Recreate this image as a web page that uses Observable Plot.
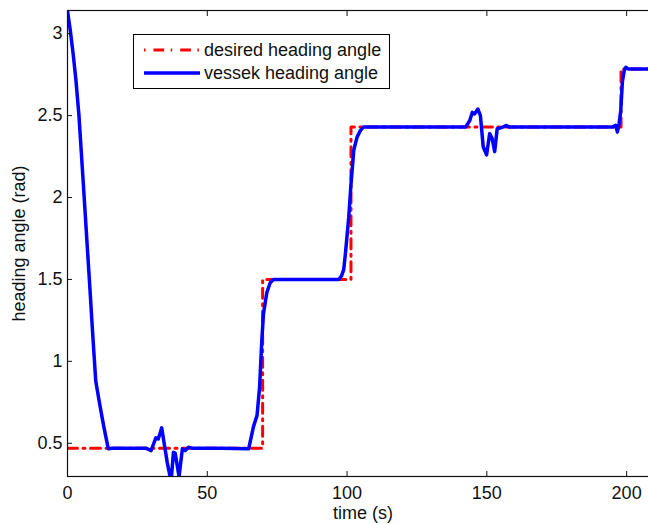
<!DOCTYPE html>
<html>
<head>
<meta charset="utf-8">
<script src="https://cdn.jsdelivr.net/npm/d3@7"></script>
<script src="https://cdn.jsdelivr.net/npm/@observablehq/plot@0.6"></script>
<style>
  html, body { margin: 0; padding: 0; background: white; }
  #wrap { position: relative; width: 648px; height: 524px; overflow: hidden; background: white; }
  #wrap > svg { max-width: none !important; width: 658px; height: 524px; display: block; }
  #legend { position: absolute; left: 133px; top: 34px; width: 255px; height: 53px; border: 1px solid black; background: white;
            font-family: "Liberation Sans", Arial, sans-serif; font-size: 18px; color: #111; }
  #legend .row { position: absolute; left: 0; height: 22px; display: flex; align-items: center; }
  #legend svg { display: block; }
</style>
</head>
<body>
<div id="wrap"></div>
<script>
// time axis ticks and heading angle ticks
const xTicks = [0, 50, 100, 150, 200];
const yTicks = [0.5, 1, 1.5, 2, 2.5, 3];

// desired heading angle (step reference)
const desiredTime  = [0, 69.8, 69.8, 101.4, 101.4, 198, 198, 211.4];
const desiredAngle = [0.47, 0.47, 1.5, 1.5, 2.43, 2.43, 2.785, 2.785];

// vessel heading angle
const vesselTime = [0, 1, 2, 3, 4.1, 5.6, 7, 8, 9, 10.1, 11.6, 13, 14.6, 16, 20, 25, 28, 29.9, 31.6, 32.5, 33.7, 34.7, 35.7, 36.7, 37.2,
  37.9, 38.5, 39.1, 39.9, 41.1, 42.1, 43.3, 44.5, 50, 55, 60, 64.8, 66.5, 67.8, 68.7, 69.5, 70.1, 71.3, 72.5, 73.7, 80, 90, 97,
  98, 98.8, 99.4, 100.6, 101.4, 102.4, 103.6, 104.8, 105.9, 120, 135, 142.4, 143.9, 144.8, 145.6, 146.8, 147.7, 148.7, 149.9,
  151, 151.9, 152.8, 153.7, 154.9, 156.1, 157, 157.9, 170, 185, 194.9, 196.1, 196.7, 197.3, 197.9, 198.5, 199.2, 199.7, 200.5, 205, 211.4];
const vesselAngle = [3.14, 3.02, 2.88, 2.72, 2.5, 2.10, 1.72, 1.45, 1.17, 0.88, 0.73, 0.6, 0.466, 0.47, 0.47, 0.47, 0.47, 0.455, 0.533, 0.527, 0.594, 0.486, 0.38, 0.297, 0.297,
  0.445, 0.44, 0.38, 0.297, 0.466, 0.455, 0.476, 0.47, 0.47, 0.47, 0.468, 0.466, 0.6, 0.67, 0.84, 1.127, 1.29, 1.42, 1.48, 1.5, 1.5, 1.5, 1.5,
  1.52, 1.56, 1.656, 1.88, 2.08, 2.29, 2.37, 2.41, 2.43, 2.43, 2.43, 2.43, 2.47, 2.52, 2.51, 2.54, 2.50, 2.31, 2.26,
  2.39, 2.36, 2.28, 2.42, 2.425, 2.433, 2.44, 2.43, 2.43, 2.43, 2.43, 2.44, 2.40, 2.45, 2.53, 2.71, 2.78, 2.795, 2.785, 2.785, 2.785];

const desired = desiredTime.map((t, i) => ({t, a: desiredAngle[i]}));
const vessel = vesselTime.map((t, i) => ({t, a: vesselAngle[i]}));

const fmt = d => String(d);
const FS = 18;

const chart = Plot.plot({
  width: 658,
  height: 524,
  marginLeft: 67,
  marginRight: 0,
  marginTop: 10,
  marginBottom: 48,
  x: {domain: [0, 211.4]},
  y: {domain: [0.297, 3.1416]},
  style: {fontFamily: "'Liberation Sans', Arial, sans-serif", fontSize: "18px", color: "#111", background: "white", maxWidth: "none"},
  marks: [
    Plot.line(desired, {x: "t", y: "a", stroke: "#ff0000", strokeWidth: 3, strokeDasharray: "10,5.5,2,5.5", clip: true}),
    Plot.line(vessel, {x: "t", y: "a", stroke: "#0000ff", strokeWidth: 3.5, clip: true}),
    Plot.frame({stroke: "#111", strokeWidth: 1.2}),
    Plot.axisX(xTicks, {anchor: "bottom", tickSize: 0, tickPadding: 10, tickFormat: fmt, fontSize: FS, label: "time (s)", labelAnchor: "center", labelOffset: 42, labelArrow: "none"}),
    Plot.axisX(xTicks, {anchor: "bottom", tickSize: -5, tickFormat: () => "", label: null}),
    Plot.axisX(xTicks, {anchor: "top", tickSize: -5, tickFormat: () => "", label: null}),
    Plot.axisY(yTicks, {anchor: "left", tickSize: 0, tickPadding: 5, tickFormat: fmt, fontSize: FS, label: "heading angle (rad)", labelAnchor: "center", labelOffset: 55, labelArrow: "none"}),
    Plot.axisY(yTicks, {anchor: "left", tickSize: -5, tickFormat: () => "", label: null})
  ]
});
chart.style.maxWidth = "none";
const wrap = document.getElementById("wrap");
wrap.appendChild(chart);

const legend = document.createElement("div");
legend.id = "legend";
legend.innerHTML = `
  <div class="row" style="top:4px">
    <svg width="70" height="22"><line x1="10" x2="66" y1="11" y2="11" stroke="#ff0000" stroke-width="3" stroke-dasharray="1.5,8,10.7,6.5"/></svg>
    <span>desired heading angle</span>
  </div>
  <div class="row" style="top:27px">
    <svg width="70" height="22"><line x1="10" x2="66" y1="11" y2="11" stroke="#0000ff" stroke-width="3.5"/></svg>
    <span>vessek heading angle</span>
  </div>`;
wrap.appendChild(legend);
</script>
</body>
</html>
